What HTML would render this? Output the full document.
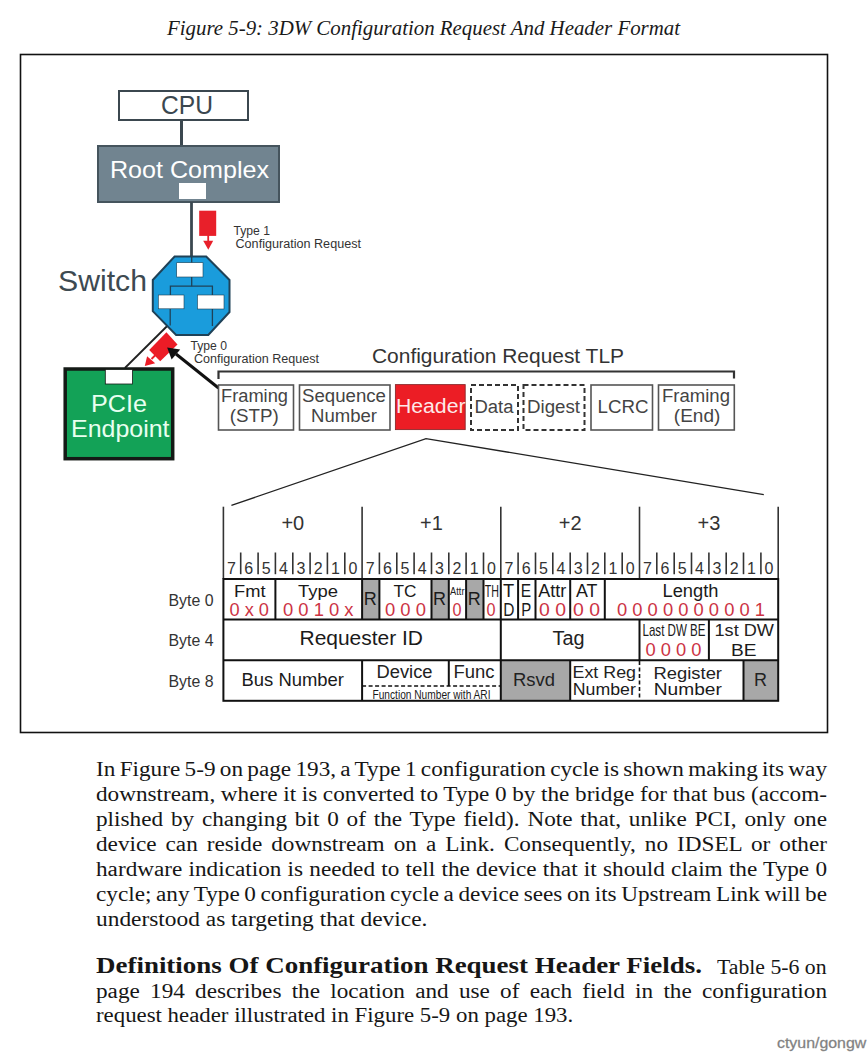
<!DOCTYPE html><html><head><meta charset="utf-8"><style>html,body{margin:0;padding:0;background:#fff;width:868px;height:1057px;overflow:hidden}svg{display:block}</style></head><body>
<svg width="868" height="1057" viewBox="0 0 868 1057">
<rect x="0" y="0" width="868" height="1057" fill="#fff"/>
<text x="167" y="35" font-size="20" fill="#1a1a1a" font-family="'Liberation Serif', serif" textLength="513" lengthAdjust="spacingAndGlyphs" font-style="italic">Figure 5-9: 3DW Configuration Request And Header Format</text>
<rect x="20.5" y="54.5" width="807" height="678" fill="none" stroke="#111" stroke-width="1.6"/>
<rect x="119" y="91" width="129" height="29" fill="#fff" stroke="#3b474f" stroke-width="2"/>
<text x="161" y="113.6" font-size="25" fill="#3b474f" font-family="'Liberation Sans', sans-serif" textLength="52" lengthAdjust="spacingAndGlyphs">CPU</text>
<line x1="181.5" y1="120" x2="181.5" y2="146" stroke="#3b474f" stroke-width="3"/>
<rect x="98" y="146" width="181" height="56" fill="#718490" stroke="#45545d" stroke-width="2"/>
<text x="110" y="178" font-size="24" fill="#fff" font-family="'Liberation Sans', sans-serif" textLength="159" lengthAdjust="spacingAndGlyphs">Root Complex</text>
<rect x="179" y="183" width="27" height="16" fill="#fff"/>
<line x1="191.5" y1="202" x2="191.5" y2="258" stroke="#3a4850" stroke-width="2.8"/>
<rect x="199.2" y="210.7" width="17" height="25.2" fill="#e8202a"/>
<rect x="207.3" y="235" width="1.8" height="6" fill="#e8202a"/>
<polygon points="203.2,240.8 213.2,240.8 208.3,249.8" fill="#e8202a"/>
<text x="233.5" y="235" font-size="12" fill="#333" font-family="'Liberation Sans', sans-serif" textLength="36.5" lengthAdjust="spacingAndGlyphs">Type 1</text>
<text x="235.5" y="248" font-size="12" fill="#333" font-family="'Liberation Sans', sans-serif" textLength="125.5" lengthAdjust="spacingAndGlyphs">Configuration Request</text>
<line x1="170.2" y1="323" x2="124.9" y2="368" stroke="#222" stroke-width="1.8"/>
<polygon points="174.6,256.5 206.2,256.5 229.5,280 229.5,312 208.3,335 176.1,335 152.8,311.2 152.8,280" fill="#1a9cdc" stroke="#1f4258" stroke-width="2"/>
<g stroke="#1f4258" stroke-width="1.3" fill="none"><polyline points="191.7,257 191.7,263"/><polyline points="191.7,277 191.7,286.2"/><polyline points="170.4,295 170.4,286.2 212.4,286.2 212.4,295"/><polyline points="170.2,309 170.2,325.5"/><polyline points="212.4,309 212.4,326"/></g>
<rect x="176.7" y="262.7" width="26.3" height="14.3" fill="#fff" stroke="#1d3e52" stroke-width="0.6"/>
<rect x="158.3" y="295" width="25.7" height="13.8" fill="#fff" stroke="#1d3e52" stroke-width="0.6"/>
<rect x="197.5" y="295" width="26.5" height="14" fill="#fff" stroke="#1d3e52" stroke-width="0.6"/>
<text x="58" y="291" font-size="30" fill="#3d4a51" font-family="'Liberation Sans', sans-serif" textLength="89" lengthAdjust="spacingAndGlyphs">Switch</text>
<rect x="65.2" y="369" width="107.5" height="89.7" fill="#13a257" stroke="#141a16" stroke-width="3.5"/>
<rect x="105.3" y="369.5" width="27.2" height="14.5" fill="#fff" stroke="#141a16" stroke-width="0.8"/>
<text x="91" y="412.2" font-size="24" fill="#e8fff0" font-family="'Liberation Sans', sans-serif" textLength="56" lengthAdjust="spacingAndGlyphs">PCIe</text>
<text x="71" y="437.1" font-size="24" fill="#e8fff0" font-family="'Liberation Sans', sans-serif" textLength="98.5" lengthAdjust="spacingAndGlyphs">Endpoint</text>
<polygon points="149.2,349.9 166.4,332.3 177.5,344.4 160.2,361.3" fill="#ec1c26"/>
<line x1="155.5" y1="355" x2="151.5" y2="359" stroke="#ec1c26" stroke-width="1.8"/>
<polygon points="147.1,356.2 155.2,363.2 144.8,366" fill="#ec1c26"/>
<line x1="218.5" y1="388" x2="176" y2="354" stroke="#111" stroke-width="3"/>
<polygon points="167.1,347.5 180.2,349.5 171.6,359.4" fill="#111"/>
<text x="190.5" y="349.7" font-size="12" fill="#333" font-family="'Liberation Sans', sans-serif" textLength="36.5" lengthAdjust="spacingAndGlyphs">Type 0</text>
<text x="194" y="362.6" font-size="12" fill="#333" font-family="'Liberation Sans', sans-serif" textLength="125" lengthAdjust="spacingAndGlyphs">Configuration Request</text>
<text x="372" y="362.7" font-size="19.5" fill="#333" font-family="'Liberation Sans', sans-serif" textLength="252" lengthAdjust="spacingAndGlyphs">Configuration Request TLP</text>
<polyline points="218.5,379 218.5,371.5 734,371.5 734,378.5" fill="none" stroke="#333" stroke-width="2.2"/>
<rect x="218.5" y="385" width="75.0" height="45" fill="#fff" stroke="#555" stroke-width="1.6"/>
<rect x="299.5" y="385" width="90.5" height="45" fill="#fff" stroke="#555" stroke-width="1.6"/>
<rect x="395.4" y="384.6" width="69.8" height="45" fill="#ec1d25" stroke="#8a2a2c" stroke-width="0.9"/>
<rect x="471" y="385" width="47" height="45" fill="#fff" stroke="#333" stroke-width="2" stroke-dasharray="5,3"/>
<rect x="523.5" y="385" width="61.0" height="45" fill="#fff" stroke="#333" stroke-width="2" stroke-dasharray="5,3"/>
<rect x="591" y="385" width="61.5" height="45" fill="#fff" stroke="#555" stroke-width="1.6"/>
<rect x="658.5" y="385" width="75.79999999999995" height="45" fill="#fff" stroke="#555" stroke-width="1.6"/>
<text x="221" y="401.8" font-size="17.5" fill="#444" font-family="'Liberation Sans', sans-serif" textLength="67" lengthAdjust="spacingAndGlyphs">Framing</text>
<text x="229.8" y="422.4" font-size="17.5" fill="#444" font-family="'Liberation Sans', sans-serif" textLength="49" lengthAdjust="spacingAndGlyphs">(STP)</text>
<text x="302" y="401.8" font-size="17.5" fill="#444" font-family="'Liberation Sans', sans-serif" textLength="84" lengthAdjust="spacingAndGlyphs">Sequence</text>
<text x="311" y="422.4" font-size="17.5" fill="#444" font-family="'Liberation Sans', sans-serif" textLength="66" lengthAdjust="spacingAndGlyphs">Number</text>
<text x="396" y="412.8" font-size="20" fill="#fde9e9" font-family="'Liberation Sans', sans-serif" textLength="69.5" lengthAdjust="spacingAndGlyphs">Header</text>
<text x="474.5" y="413" font-size="18" fill="#444" font-family="'Liberation Sans', sans-serif" textLength="39" lengthAdjust="spacingAndGlyphs">Data</text>
<text x="527" y="413" font-size="18" fill="#444" font-family="'Liberation Sans', sans-serif" textLength="53" lengthAdjust="spacingAndGlyphs">Digest</text>
<text x="597.5" y="413" font-size="18" fill="#444" font-family="'Liberation Sans', sans-serif" textLength="51" lengthAdjust="spacingAndGlyphs">LCRC</text>
<text x="662" y="401.8" font-size="17.5" fill="#444" font-family="'Liberation Sans', sans-serif" textLength="68" lengthAdjust="spacingAndGlyphs">Framing</text>
<text x="673.8" y="422.4" font-size="17.5" fill="#444" font-family="'Liberation Sans', sans-serif" textLength="46.5" lengthAdjust="spacingAndGlyphs">(End)</text>
<polyline points="231.4,505.4 426,438.6 763.8,494.6" fill="none" stroke="#222" stroke-width="1.3"/>
<g stroke="#333" stroke-width="1.6">
<line x1="223.4" y1="506.7" x2="223.4" y2="579" />
<line x1="362.1" y1="506.7" x2="362.1" y2="579" />
<line x1="500.8" y1="506.7" x2="500.8" y2="579" />
<line x1="639.5" y1="506.7" x2="639.5" y2="579" />
<line x1="778.2" y1="506.7" x2="778.2" y2="579" />
<line x1="240.7" y1="552.5" x2="240.7" y2="574.2" />
<line x1="258.1" y1="552.5" x2="258.1" y2="574.2" />
<line x1="275.4" y1="552.5" x2="275.4" y2="574.2" />
<line x1="292.8" y1="552.5" x2="292.8" y2="574.2" />
<line x1="310.1" y1="552.5" x2="310.1" y2="574.2" />
<line x1="327.4" y1="552.5" x2="327.4" y2="574.2" />
<line x1="344.8" y1="552.5" x2="344.8" y2="574.2" />
<line x1="379.4" y1="552.5" x2="379.4" y2="574.2" />
<line x1="396.8" y1="552.5" x2="396.8" y2="574.2" />
<line x1="414.1" y1="552.5" x2="414.1" y2="574.2" />
<line x1="431.5" y1="552.5" x2="431.5" y2="574.2" />
<line x1="448.8" y1="552.5" x2="448.8" y2="574.2" />
<line x1="466.1" y1="552.5" x2="466.1" y2="574.2" />
<line x1="483.5" y1="552.5" x2="483.5" y2="574.2" />
<line x1="518.1" y1="552.5" x2="518.1" y2="574.2" />
<line x1="535.5" y1="552.5" x2="535.5" y2="574.2" />
<line x1="552.8" y1="552.5" x2="552.8" y2="574.2" />
<line x1="570.2" y1="552.5" x2="570.2" y2="574.2" />
<line x1="587.5" y1="552.5" x2="587.5" y2="574.2" />
<line x1="604.8" y1="552.5" x2="604.8" y2="574.2" />
<line x1="622.2" y1="552.5" x2="622.2" y2="574.2" />
<line x1="656.8" y1="552.5" x2="656.8" y2="574.2" />
<line x1="674.2" y1="552.5" x2="674.2" y2="574.2" />
<line x1="691.5" y1="552.5" x2="691.5" y2="574.2" />
<line x1="708.9" y1="552.5" x2="708.9" y2="574.2" />
<line x1="726.2" y1="552.5" x2="726.2" y2="574.2" />
<line x1="743.5" y1="552.5" x2="743.5" y2="574.2" />
<line x1="760.9" y1="552.5" x2="760.9" y2="574.2" />
</g>
<text x="292.8" y="530.3" font-size="20" fill="#333" font-family="'Liberation Sans', sans-serif" text-anchor="middle">+0</text>
<text x="227.0" y="573.3" font-size="16" fill="#333" font-family="'Liberation Sans', sans-serif" dy="0.5">7</text>
<text x="244.3" y="573.3" font-size="16" fill="#333" font-family="'Liberation Sans', sans-serif" dy="0.5">6</text>
<text x="261.7" y="573.3" font-size="16" fill="#333" font-family="'Liberation Sans', sans-serif" dy="0.5">5</text>
<text x="279.0" y="573.3" font-size="16" fill="#333" font-family="'Liberation Sans', sans-serif" dy="0.5">4</text>
<text x="296.4" y="573.3" font-size="16" fill="#333" font-family="'Liberation Sans', sans-serif" dy="0.5">3</text>
<text x="313.7" y="573.3" font-size="16" fill="#333" font-family="'Liberation Sans', sans-serif" dy="0.5">2</text>
<text x="331.0" y="573.3" font-size="16" fill="#333" font-family="'Liberation Sans', sans-serif" dy="0.5">1</text>
<text x="348.4" y="573.3" font-size="16" fill="#333" font-family="'Liberation Sans', sans-serif" dy="0.5">0</text>
<text x="431.5" y="530.3" font-size="20" fill="#333" font-family="'Liberation Sans', sans-serif" text-anchor="middle">+1</text>
<text x="365.7" y="573.3" font-size="16" fill="#333" font-family="'Liberation Sans', sans-serif" dy="0.5">7</text>
<text x="383.0" y="573.3" font-size="16" fill="#333" font-family="'Liberation Sans', sans-serif" dy="0.5">6</text>
<text x="400.4" y="573.3" font-size="16" fill="#333" font-family="'Liberation Sans', sans-serif" dy="0.5">5</text>
<text x="417.7" y="573.3" font-size="16" fill="#333" font-family="'Liberation Sans', sans-serif" dy="0.5">4</text>
<text x="435.1" y="573.3" font-size="16" fill="#333" font-family="'Liberation Sans', sans-serif" dy="0.5">3</text>
<text x="452.4" y="573.3" font-size="16" fill="#333" font-family="'Liberation Sans', sans-serif" dy="0.5">2</text>
<text x="469.7" y="573.3" font-size="16" fill="#333" font-family="'Liberation Sans', sans-serif" dy="0.5">1</text>
<text x="487.1" y="573.3" font-size="16" fill="#333" font-family="'Liberation Sans', sans-serif" dy="0.5">0</text>
<text x="570.2" y="530.3" font-size="20" fill="#333" font-family="'Liberation Sans', sans-serif" text-anchor="middle">+2</text>
<text x="504.4" y="573.3" font-size="16" fill="#333" font-family="'Liberation Sans', sans-serif" dy="0.5">7</text>
<text x="521.7" y="573.3" font-size="16" fill="#333" font-family="'Liberation Sans', sans-serif" dy="0.5">6</text>
<text x="539.1" y="573.3" font-size="16" fill="#333" font-family="'Liberation Sans', sans-serif" dy="0.5">5</text>
<text x="556.4" y="573.3" font-size="16" fill="#333" font-family="'Liberation Sans', sans-serif" dy="0.5">4</text>
<text x="573.8" y="573.3" font-size="16" fill="#333" font-family="'Liberation Sans', sans-serif" dy="0.5">3</text>
<text x="591.1" y="573.3" font-size="16" fill="#333" font-family="'Liberation Sans', sans-serif" dy="0.5">2</text>
<text x="608.4" y="573.3" font-size="16" fill="#333" font-family="'Liberation Sans', sans-serif" dy="0.5">1</text>
<text x="625.8" y="573.3" font-size="16" fill="#333" font-family="'Liberation Sans', sans-serif" dy="0.5">0</text>
<text x="708.9" y="530.3" font-size="20" fill="#333" font-family="'Liberation Sans', sans-serif" text-anchor="middle">+3</text>
<text x="643.1" y="573.3" font-size="16" fill="#333" font-family="'Liberation Sans', sans-serif" dy="0.5">7</text>
<text x="660.4" y="573.3" font-size="16" fill="#333" font-family="'Liberation Sans', sans-serif" dy="0.5">6</text>
<text x="677.8" y="573.3" font-size="16" fill="#333" font-family="'Liberation Sans', sans-serif" dy="0.5">5</text>
<text x="695.1" y="573.3" font-size="16" fill="#333" font-family="'Liberation Sans', sans-serif" dy="0.5">4</text>
<text x="712.5" y="573.3" font-size="16" fill="#333" font-family="'Liberation Sans', sans-serif" dy="0.5">3</text>
<text x="729.8" y="573.3" font-size="16" fill="#333" font-family="'Liberation Sans', sans-serif" dy="0.5">2</text>
<text x="747.1" y="573.3" font-size="16" fill="#333" font-family="'Liberation Sans', sans-serif" dy="0.5">1</text>
<text x="764.5" y="573.3" font-size="16" fill="#333" font-family="'Liberation Sans', sans-serif" dy="0.5">0</text>
<text x="168.5" y="606.3" font-size="16.5" fill="#333" font-family="'Liberation Sans', sans-serif" textLength="45" lengthAdjust="spacingAndGlyphs">Byte 0</text>
<text x="168.5" y="646.3" font-size="16.5" fill="#333" font-family="'Liberation Sans', sans-serif" textLength="45" lengthAdjust="spacingAndGlyphs">Byte 4</text>
<text x="168.5" y="687.3" font-size="16.5" fill="#333" font-family="'Liberation Sans', sans-serif" textLength="45" lengthAdjust="spacingAndGlyphs">Byte 8</text>
<rect x="362.10" y="579" width="17.34" height="40.5" fill="#a8a8a8"/>
<rect x="431.45" y="579" width="17.34" height="40.5" fill="#a8a8a8"/>
<rect x="466.12" y="579" width="17.34" height="40.5" fill="#a8a8a8"/>
<rect x="500.80" y="660.2" width="69.35" height="40.59999999999991" fill="#a8a8a8"/>
<rect x="743.53" y="660.2" width="34.67" height="40.59999999999991" fill="#a8a8a8"/>
<text x="234" y="596.6" font-size="17" fill="#1a1a1a" font-family="'Liberation Sans', sans-serif" textLength="31.5" lengthAdjust="spacingAndGlyphs">Fmt</text>
<text x="229.5" y="616" font-size="18" fill="#cc3344" font-family="'Liberation Sans', sans-serif" textLength="39.5" lengthAdjust="spacingAndGlyphs">0 x 0</text>
<text x="298" y="596.6" font-size="17" fill="#1a1a1a" font-family="'Liberation Sans', sans-serif" textLength="40" lengthAdjust="spacingAndGlyphs">Type</text>
<text x="283" y="616" font-size="18" fill="#cc3344" font-family="'Liberation Sans', sans-serif" textLength="70.5" lengthAdjust="spacingAndGlyphs">0 0 1 0 x</text>
<text x="363.7" y="604.9" font-size="17.5" fill="#1a1a1a" font-family="'Liberation Sans', sans-serif" textLength="13" lengthAdjust="spacingAndGlyphs">R</text>
<text x="433.1" y="604.9" font-size="17.5" fill="#1a1a1a" font-family="'Liberation Sans', sans-serif" textLength="13" lengthAdjust="spacingAndGlyphs">R</text>
<text x="467.7" y="604.9" font-size="17.5" fill="#1a1a1a" font-family="'Liberation Sans', sans-serif" textLength="13" lengthAdjust="spacingAndGlyphs">R</text>
<text x="393.5" y="597" font-size="17" fill="#1a1a1a" font-family="'Liberation Sans', sans-serif" textLength="23" lengthAdjust="spacingAndGlyphs">TC</text>
<text x="385" y="615.9" font-size="17.5" fill="#cc3344" font-family="'Liberation Sans', sans-serif" textLength="41" lengthAdjust="spacingAndGlyphs">0 0 0</text>
<text x="450" y="594.9" font-size="10.5" fill="#222" font-family="'Liberation Sans', sans-serif" textLength="14.5" lengthAdjust="spacingAndGlyphs">Attr</text>
<text x="452.5" y="615.9" font-size="17.5" fill="#cc3344" font-family="'Liberation Sans', sans-serif" textLength="9" lengthAdjust="spacingAndGlyphs">0</text>
<text x="484.8" y="596.9" font-size="17" fill="#1a1a1a" font-family="'Liberation Sans', sans-serif" textLength="14.2" lengthAdjust="spacingAndGlyphs">TH</text>
<text x="486.5" y="615.9" font-size="17.5" fill="#cc3344" font-family="'Liberation Sans', sans-serif" textLength="9" lengthAdjust="spacingAndGlyphs">0</text>
<text x="503" y="596.9" font-size="17.5" fill="#1a1a1a" font-family="'Liberation Sans', sans-serif" textLength="11.2" lengthAdjust="spacingAndGlyphs">T</text>
<text x="503.3" y="615.6" font-size="17.5" fill="#1a1a1a" font-family="'Liberation Sans', sans-serif" textLength="11.2" lengthAdjust="spacingAndGlyphs">D</text>
<text x="520.8" y="596.9" font-size="17.5" fill="#1a1a1a" font-family="'Liberation Sans', sans-serif" textLength="10.4" lengthAdjust="spacingAndGlyphs">E</text>
<text x="521.2" y="615.6" font-size="17.5" fill="#1a1a1a" font-family="'Liberation Sans', sans-serif" textLength="10" lengthAdjust="spacingAndGlyphs">P</text>
<text x="538.2" y="596.9" font-size="17.5" fill="#1a1a1a" font-family="'Liberation Sans', sans-serif" textLength="28" lengthAdjust="spacingAndGlyphs">Attr</text>
<text x="539" y="615.9" font-size="17.5" fill="#cc3344" font-family="'Liberation Sans', sans-serif" textLength="27" lengthAdjust="spacingAndGlyphs">0 0</text>
<text x="576" y="596.9" font-size="17.5" fill="#1a1a1a" font-family="'Liberation Sans', sans-serif" textLength="21.5" lengthAdjust="spacingAndGlyphs">AT</text>
<text x="573" y="615.9" font-size="17.5" fill="#cc3344" font-family="'Liberation Sans', sans-serif" textLength="27" lengthAdjust="spacingAndGlyphs">0 0</text>
<text x="662.5" y="596.9" font-size="17.5" fill="#1a1a1a" font-family="'Liberation Sans', sans-serif" textLength="56" lengthAdjust="spacingAndGlyphs">Length</text>
<text x="617" y="615.9" font-size="17.5" fill="#cc3344" font-family="'Liberation Sans', sans-serif" textLength="148" lengthAdjust="spacingAndGlyphs">0 0 0 0 0 0 0 0 0 1</text>
<text x="299.5" y="644.7" font-size="21" fill="#1a1a1a" font-family="'Liberation Sans', sans-serif" textLength="123.5" lengthAdjust="spacingAndGlyphs">Requester ID</text>
<text x="552.5" y="644.7" font-size="19.5" fill="#222" font-family="'Liberation Sans', sans-serif" textLength="32" lengthAdjust="spacingAndGlyphs">Tag</text>
<text x="642.5" y="636.2" font-size="17" fill="#1a1a1a" font-family="'Liberation Sans', sans-serif" textLength="63" lengthAdjust="spacingAndGlyphs">Last DW BE</text>
<text x="645.5" y="656" font-size="18" fill="#cc3344" font-family="'Liberation Sans', sans-serif" textLength="56" lengthAdjust="spacingAndGlyphs">0 0 0 0</text>
<text x="714.5" y="636.4" font-size="16.5" fill="#222" font-family="'Liberation Sans', sans-serif" textLength="59.5" lengthAdjust="spacingAndGlyphs">1st DW</text>
<text x="731" y="655.8" font-size="17" fill="#1a1a1a" font-family="'Liberation Sans', sans-serif" textLength="25.5" lengthAdjust="spacingAndGlyphs">BE</text>
<text x="241.5" y="685.7" font-size="19" fill="#1a1a1a" font-family="'Liberation Sans', sans-serif" textLength="102.5" lengthAdjust="spacingAndGlyphs">Bus Number</text>
<text x="376.5" y="677.5" font-size="17.5" fill="#222" font-family="'Liberation Sans', sans-serif" textLength="56" lengthAdjust="spacingAndGlyphs">Device</text>
<text x="453.5" y="677.5" font-size="17.5" fill="#222" font-family="'Liberation Sans', sans-serif" textLength="41" lengthAdjust="spacingAndGlyphs">Func</text>
<text x="372.5" y="698.8" font-size="13.5" fill="#1a1a1a" font-family="'Liberation Sans', sans-serif" textLength="118" lengthAdjust="spacingAndGlyphs">Function Number with ARI</text>
<text x="513" y="685.8" font-size="18" fill="#222" font-family="'Liberation Sans', sans-serif" textLength="42" lengthAdjust="spacingAndGlyphs">Rsvd</text>
<text x="572.5" y="678.2" font-size="16" fill="#222" font-family="'Liberation Sans', sans-serif" textLength="63.5" lengthAdjust="spacingAndGlyphs">Ext Reg</text>
<text x="572.8" y="695.3" font-size="16" fill="#1a1a1a" font-family="'Liberation Sans', sans-serif" textLength="63" lengthAdjust="spacingAndGlyphs">Number</text>
<text x="653.5" y="678.8" font-size="16" fill="#222" font-family="'Liberation Sans', sans-serif" textLength="68.5" lengthAdjust="spacingAndGlyphs">Register</text>
<text x="653.8" y="695.3" font-size="16" fill="#1a1a1a" font-family="'Liberation Sans', sans-serif" textLength="68" lengthAdjust="spacingAndGlyphs">Number</text>
<text x="754" y="685.8" font-size="18" fill="#222" font-family="'Liberation Sans', sans-serif" textLength="13" lengthAdjust="spacingAndGlyphs">R</text>
<g stroke="#111" stroke-width="2" fill="none">
<rect x="223.4" y="579" width="554.8" height="121.8"/>
<line x1="223.4" y1="619.5" x2="778.2" y2="619.5"/>
<line x1="223.4" y1="660.2" x2="778.2" y2="660.2"/>
<line x1="275.4" y1="579" x2="275.4" y2="619.5"/>
<line x1="362.1" y1="579" x2="362.1" y2="619.5"/>
<line x1="379.4" y1="579" x2="379.4" y2="619.5"/>
<line x1="431.5" y1="579" x2="431.5" y2="619.5"/>
<line x1="448.8" y1="579" x2="448.8" y2="619.5"/>
<line x1="466.1" y1="579" x2="466.1" y2="619.5"/>
<line x1="483.5" y1="579" x2="483.5" y2="619.5"/>
<line x1="500.8" y1="579" x2="500.8" y2="619.5"/>
<line x1="518.1" y1="579" x2="518.1" y2="619.5"/>
<line x1="535.5" y1="579" x2="535.5" y2="619.5"/>
<line x1="570.2" y1="579" x2="570.2" y2="619.5"/>
<line x1="604.8" y1="579" x2="604.8" y2="619.5"/>
<line x1="500.8" y1="619.5" x2="500.8" y2="660.2"/>
<line x1="639.5" y1="619.5" x2="639.5" y2="660.2"/>
<line x1="708.9" y1="619.5" x2="708.9" y2="660.2"/>
<line x1="362.1" y1="660.2" x2="362.1" y2="700.8"/>
<line x1="500.8" y1="660.2" x2="500.8" y2="700.8"/>
<line x1="570.2" y1="660.2" x2="570.2" y2="700.8"/>
<line x1="743.5" y1="660.2" x2="743.5" y2="700.8"/>
<line x1="448.8" y1="660.2" x2="448.8" y2="686"/>
</g>
<line x1="362.1" y1="686" x2="500.8" y2="686" stroke="#111" stroke-width="1.6" stroke-dasharray="4,2.5"/>
<line x1="639.5" y1="661" x2="639.5" y2="700" stroke="#111" stroke-width="1.6" stroke-dasharray="4,2.5"/>
</svg>
<div style="position:absolute;left:95.5px;top:756.8px;width:630.04px;height:25px;line-height:25px;font-size:20px;word-spacing:-3px;white-space:nowrap;transform-origin:0 0;transform:scaleX(1.16025);font-family:'Liberation Serif',serif;color:#161616;text-align:justify;text-align-last:justify;">In Figure 5-9 on page 193, a Type 1 configuration cycle is shown making its way</div>
<div style="position:absolute;left:95.5px;top:781.8px;width:630.04px;height:25px;line-height:25px;font-size:20px;word-spacing:-3px;white-space:nowrap;transform-origin:0 0;transform:scaleX(1.16025);font-family:'Liberation Serif',serif;color:#161616;text-align:justify;text-align-last:justify;">downstream, where it is converted to Type 0 by the bridge for that bus (accom-</div>
<div style="position:absolute;left:95.5px;top:806.8px;width:630.04px;height:25px;line-height:25px;font-size:20px;word-spacing:-3px;white-space:nowrap;transform-origin:0 0;transform:scaleX(1.16025);font-family:'Liberation Serif',serif;color:#161616;text-align:justify;text-align-last:justify;">plished by changing bit 0 of the Type field). Note that, unlike PCI, only one</div>
<div style="position:absolute;left:95.5px;top:831.8px;width:630.04px;height:25px;line-height:25px;font-size:20px;word-spacing:-3px;white-space:nowrap;transform-origin:0 0;transform:scaleX(1.16025);font-family:'Liberation Serif',serif;color:#161616;text-align:justify;text-align-last:justify;">device can reside downstream on a Link. Consequently, no IDSEL or other</div>
<div style="position:absolute;left:95.5px;top:856.8px;width:630.04px;height:25px;line-height:25px;font-size:20px;word-spacing:-3px;white-space:nowrap;transform-origin:0 0;transform:scaleX(1.16025);font-family:'Liberation Serif',serif;color:#161616;text-align:justify;text-align-last:justify;">hardware indication is needed to tell the device that it should claim the Type 0</div>
<div style="position:absolute;left:95.5px;top:881.8px;width:630.04px;height:25px;line-height:25px;font-size:20px;word-spacing:-3px;white-space:nowrap;transform-origin:0 0;transform:scaleX(1.16025);font-family:'Liberation Serif',serif;color:#161616;text-align:justify;text-align-last:justify;">cycle; any Type 0 configuration cycle a device sees on its Upstream Link will be</div>
<div style="position:absolute;left:95.5px;top:906.8px;width:290.77px;height:25px;line-height:25px;font-size:20px;word-spacing:0px;white-space:nowrap;transform-origin:0 0;transform:scaleX(1.169290909090909);font-family:'Liberation Serif',serif;color:#161616;">understood as targeting that device.</div>
<div style="position:absolute;left:96px;top:953.3px;width:539.60px;height:25px;line-height:25px;font-size:20px;word-spacing:0px;white-space:nowrap;transform-origin:0 0;transform:scaleX(1.1230541141586359);font-family:'Liberation Serif',serif;color:#161616;"><b style="font-size:24px">Definitions Of Configuration Request Header Fields.</b></div>
<div style="position:absolute;left:717px;top:954.8px;width:99.34px;height:25px;line-height:25px;font-size:20px;word-spacing:0px;white-space:nowrap;transform-origin:0 0;transform:scaleX(1.087125);font-family:'Liberation Serif',serif;color:#161616;">Table 5-6 on</div>
<div style="position:absolute;left:95.5px;top:978.5px;width:630.04px;height:25px;line-height:25px;font-size:20px;word-spacing:-3px;white-space:nowrap;transform-origin:0 0;transform:scaleX(1.16025);font-family:'Liberation Serif',serif;color:#161616;text-align:justify;text-align-last:justify;">page 194 describes the location and use of each field in the configuration</div>
<div style="position:absolute;left:95.5px;top:1003.0px;width:420.64px;height:25px;line-height:25px;font-size:20px;word-spacing:0px;white-space:nowrap;transform-origin:0 0;transform:scaleX(1.141111111111111);font-family:'Liberation Serif',serif;color:#161616;">request header illustrated in Figure 5-9 on page 193.</div>
<div style="position:absolute;left:777px;top:1034px;font-family:'Liberation Sans',sans-serif;font-size:15px;color:#7d7d7d;white-space:nowrap;transform-origin:0 0;transform:scaleX(1.06);-webkit-text-stroke:0.3px #8d8d8d">ctyun/gongw</div>
</body></html>
